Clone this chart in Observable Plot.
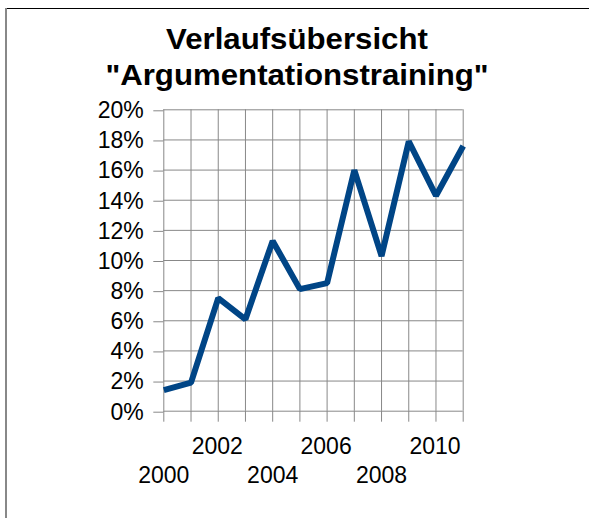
<!DOCTYPE html>
<html><head><meta charset="utf-8">
<script src="https://cdn.jsdelivr.net/npm/d3@7"></script>
<script src="https://cdn.jsdelivr.net/npm/@observablehq/plot@0.6"></script>
<style>
html,body{margin:0;padding:0;background:#fff;}
#wrap{position:relative;width:589px;height:518px;overflow:hidden;font-family:"Liberation Sans",Arial,sans-serif;}
#frameTop{position:absolute;left:5px;top:8px;right:0;height:1px;background:#000;}
#frameLeft{position:absolute;left:5px;top:8px;width:2px;bottom:0;background:#888;}
#title{position:absolute;left:5px;width:584px;top:21px;text-align:center;font-weight:bold;font-size:30px;line-height:36px;color:#000;transform:scaleX(1.04);z-index:2;}
#chart{position:absolute;left:0;top:0;}
</style></head><body>
<div id="wrap"><div id="frameTop"></div><div id="frameLeft"></div>
<div id="title">Verlaufsübersicht<br>"Argumentationstraining"</div>
<div id="chart"></div></div>
<script>
const years = [2000, 2001, 2002, 2003, 2004, 2005, 2006, 2007, 2008, 2009, 2010, 2011];
const shares = [0.014, 0.019, 0.075, 0.061, 0.113, 0.081, 0.085, 0.160, 0.103, 0.179, 0.143, 0.176];
const yTicks = [0, 0.02, 0.04, 0.06, 0.08, 0.10, 0.12, 0.14, 0.16, 0.18, 0.20];
const upperLabelYears = [2002, 2006, 2010];
const lowerLabelYears = [2000, 2004, 2008];

const data = years.map((year, i) => ({year, share: shares[i]}));
const gridColor = "#888";
const fontSize = 23;

const plot = Plot.plot({
  width: 589,
  height: 518,
  marginLeft: 163.3,
  marginRight: 126.3,
  marginTop: 109.3,
  marginBottom: 107.3,
  style: {fontFamily: '"Liberation Sans", Arial, sans-serif', fontSize: fontSize + "px", background: "transparent", overflow: "visible"},
  x: {type: "linear", domain: [years[0], years[years.length - 1]]},
  y: {domain: [yTicks[0], yTicks[yTicks.length - 1]]},
  marks: [
    Plot.gridX(years, {stroke: gridColor, strokeOpacity: 1, strokeWidth: 1}),
    Plot.gridY(yTicks, {stroke: gridColor, strokeOpacity: 1, strokeWidth: 1}),
    Plot.axisY({ticks: yTicks, tickSize: 10, tickPadding: 10, tickFormat: d3.format(".0%"),
      stroke: gridColor, fill: "black", fontSize: fontSize, label: null, dy: 1}),
    Plot.axisX({ticks: years, tickSize: 11, stroke: gridColor, fill: "none", label: null}),
    Plot.axisX({ticks: upperLabelYears, tickSize: 0, tickPadding: 26.5, tickFormat: d => String(d),
      fill: "black", fontSize: fontSize, label: null, dx: -1}),
    Plot.axisX({ticks: lowerLabelYears, tickSize: 0, tickPadding: 55, tickFormat: d => String(d),
      fill: "black", fontSize: fontSize, label: null}),
    Plot.line(data, {x: "year", y: "share", stroke: "#004586", strokeWidth: 6,
      strokeLinejoin: "miter", strokeLinecap: "butt"})
  ]
});
document.getElementById("chart").appendChild(plot);
</script>
</body></html>
